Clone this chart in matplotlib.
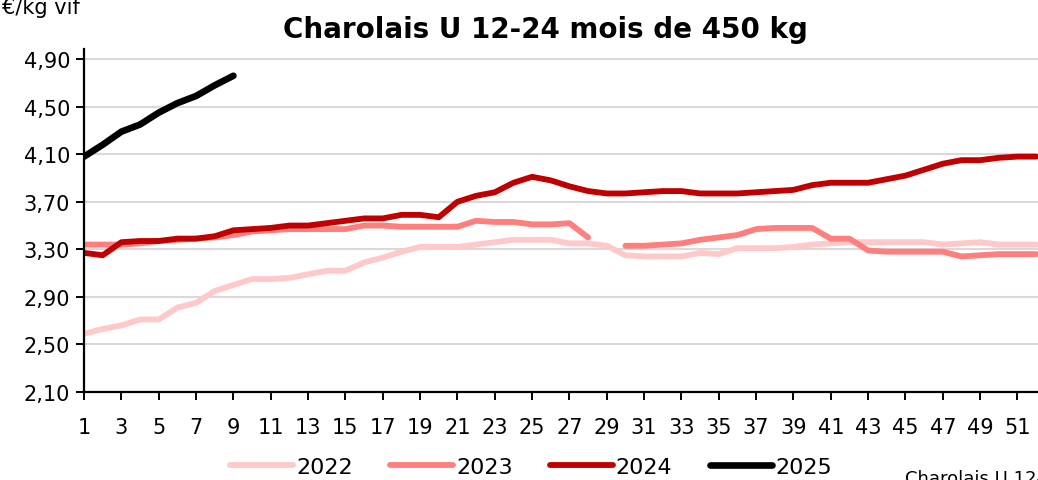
import matplotlib
matplotlib.use('Agg')

from matplotlib import pyplot
from matplotlib.ticker import FuncFormatter
import numpy as np

pyplot.rcParams['font.family'] = ['DejaVu Sans']

# weekly prices, EUR/kg live weight
weeks = np.arange(1, 53)

price_2022 = [2.59, 2.63, 2.66, 2.71, 2.71, 2.81, 2.85, 2.95, 3.00, 3.05,
              3.05, 3.06, 3.09, 3.12, 3.12, 3.19, 3.23, 3.28, 3.32, 3.32,
              3.32, 3.34, 3.36, 3.38, 3.38, 3.38, 3.35, 3.35, 3.33, 3.25,
              3.24, 3.24, 3.24, 3.27, 3.26, 3.31, 3.31, 3.31, 3.32, 3.34,
              3.35, 3.36, 3.36, 3.36, 3.36, 3.36, 3.34, 3.35, 3.36, 3.34,
              3.34, 3.34]

price_2023 = [3.34, 3.34, 3.34, 3.35, 3.37, 3.38, 3.39, 3.40, 3.42, 3.45,
              3.46, 3.47, 3.47, 3.47, 3.47, 3.50, 3.50, 3.49, 3.49, 3.49,
              3.49, 3.54, 3.53, 3.53, 3.51, 3.51, 3.52, 3.40, np.nan, 3.33,
              3.33, 3.34, 3.35, 3.38, 3.40, 3.42, 3.47, 3.48, 3.48, 3.48,
              3.39, 3.39, 3.29, 3.28, 3.28, 3.28, 3.28, 3.24, 3.25, 3.26,
              3.26, 3.26]

price_2024 = [3.27, 3.25, 3.36, 3.37, 3.37, 3.39, 3.39, 3.41, 3.46, 3.47,
              3.48, 3.50, 3.50, 3.52, 3.54, 3.56, 3.56, 3.59, 3.59, 3.57,
              3.70, 3.75, 3.78, 3.86, 3.91, 3.88, 3.83, 3.79, 3.77, 3.77,
              3.78, 3.79, 3.79, 3.77, 3.77, 3.77, 3.78, 3.79, 3.80, 3.84,
              3.86, 3.86, 3.86, 3.89, 3.92, 3.97, 4.02, 4.05, 4.05, 4.07,
              4.08, 4.08]

price_2025 = [4.08, 4.18, 4.29, 4.35, 4.45, 4.53, 4.59, 4.68, 4.76]

series = [
    ("2022", price_2022, "#FFC9C9", 4.2),
    ("2023", price_2023, "#FF7F7F", 4.2),
    ("2024", price_2024, "#C00000", 4.2),
    ("2025", price_2025, "#000000", 4.8),
]

fig = pyplot.figure(figsize=(10.38, 4.81), dpi=100)
ax = fig.add_axes([0.081, 0.183, 0.919, 0.713])

for label, vals, color, lw in series:
    ax.plot(weeks[:len(vals)], vals, '-', color=color, linewidth=lw,
            solid_capstyle='round', solid_joinstyle='round', label=label)

ax.set_xlim(1, 52.1)
ax.set_ylim(2.10, 4.985)
ax.set_yticks(np.arange(2.10, 4.95, 0.40))
ax.set_xticks(np.arange(1, 53, 2))
ax.yaxis.set_major_formatter(FuncFormatter(lambda v, p: ("%.2f" % v).replace('.', ',')))

ax.yaxis.grid(True, color='#D9D9D9', linewidth=1.5)
ax.set_axisbelow(True)
for s in ['top', 'right']:
    ax.spines[s].set_visible(False)
for s in ['left', 'bottom']:
    ax.spines[s].set_linewidth(1.6)
    ax.spines[s].set_color('k')

ax.tick_params(axis='both', direction='out', length=6, width=1.4, labelsize=15)
ax.tick_params(axis='y', pad=4)
ax.tick_params(axis='x', pad=12)

fig.text(0.525, 0.938, "Charolais U 12-24 mois de 450 kg", ha='center', va='center',
         fontsize=20, fontweight='bold')
fig.text(0.002, 1 - 14 / 481., "\u20ac/kg vif", ha='left', va='baseline', fontsize=15)
fig.text(0.872, 0.023, "Charolais U 12-24 mois de 450 kg", ha='left', va='top', fontsize=13)

fig.legend(loc='center', bbox_to_anchor=(0.512, 0.027), ncol=4, frameon=False,
           fontsize=16, handlelength=2.8, handletextpad=0.15, columnspacing=1.7)

pyplot.savefig('out.png', dpi=100)
pyplot.close()
